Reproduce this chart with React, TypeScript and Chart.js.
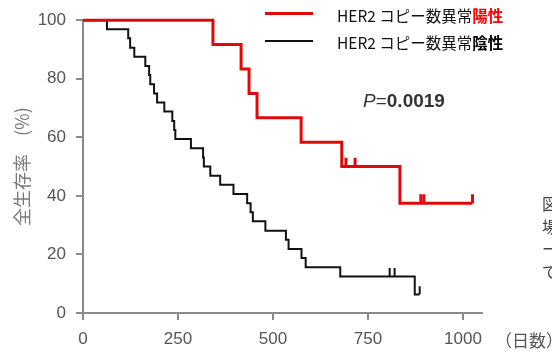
import React, { useEffect, useRef } from "react";
import { Chart, registerables } from "chart.js";
Chart.register(...registerables);

const xTicks = [0, 250, 500, 750, 1000];
const yTicks = [0, 20, 40, 60, 80, 100];

// HER2 copy-number abnormality positive (red)
const posTimes = [0, 342, 416, 437, 458, 574, 681, 834, 1025];
const posSurv = [100, 91.7, 83.3, 75.0, 66.7, 58.3, 50.0, 37.5, 37.5];
const posCensorTimes = [692, 716, 889, 897, 1025];
const posCensorSurv = [50, 50, 37.5, 37.5, 37.5];

// HER2 copy-number abnormality negative (black)
const negTimes = [0, 63, 119, 124, 135, 164, 174, 177, 187, 195, 214, 235, 240, 243, 284, 316, 318, 335, 361, 396, 432, 441, 447, 480, 534, 541, 575, 586, 677, 873, 886];
const negSurv = [100, 96.9, 93.8, 90.6, 87.5, 84.4, 81.3, 78.1, 75.0, 71.9, 68.8, 65.6, 62.5, 59.4, 56.3, 53.1, 50.0, 46.9, 43.8, 40.6, 37.5, 34.4, 31.3, 28.1, 25.0, 21.9, 18.8, 15.6, 12.5, 6.3, 6.3];
const negCensorTimes = [807, 820, 886];
const negCensorSurv = [12.5, 12.5, 6.3];

const legendPrefix = "HER2 コピー数異常";
const legendPos = "陽性";
const legendNeg = "陰性";
const pLabel = "P";
const pValue = "0.0019";
const yTitle = "全生存率　(%)";
const xUnit = "（日数）";
const sideChars = ["図", "場", "ー", "で"];

const RED = "#dd0a0a";
const TICK_OFFSET = 1.5;

export default function App() {
  const ref = useRef<HTMLCanvasElement | null>(null);

  useEffect(() => {
    if (!ref.current) return;
    const chart = new Chart(ref.current, {
      type: "line",
      data: {
        datasets: [
          {
            label: "pos",
            data: posTimes.map((t, i) => ({ x: t, y: posSurv[i] })),
            borderColor: RED,
            borderWidth: 3,
            stepped: "before",
            pointRadius: 0,
            fill: false,
            clip: 6,
          },
          {
            label: "posCensor",
            type: "scatter",
            data: posCensorTimes.map((t, i) => ({ x: t, y: posCensorSurv[i] + TICK_OFFSET })),
            pointStyle: "line",
            rotation: 90,
            pointRadius: 4.5,
            borderColor: RED,
            pointBorderColor: RED,
            pointBorderWidth: 3,
            showLine: false,
            clip: 6,
          },
          {
            label: "neg",
            data: negTimes.map((t, i) => ({ x: t, y: negSurv[i] })),
            borderColor: "#111",
            borderWidth: 2,
            stepped: "before",
            pointRadius: 0,
            fill: false,
            clip: 6,
          },
          {
            label: "negCensor",
            type: "scatter",
            data: negCensorTimes.map((t, i) => ({ x: t, y: negCensorSurv[i] + TICK_OFFSET })),
            pointStyle: "line",
            rotation: 90,
            pointRadius: 4,
            borderColor: "#111",
            pointBorderColor: "#111",
            pointBorderWidth: 2,
            showLine: false,
            clip: 6,
          },
        ] as any,
      },
      options: {
        animation: false,
        responsive: false,
        devicePixelRatio: 1,
        layout: { padding: { top: 14, right: 70, left: 0, bottom: 0 } },
        plugins: { legend: { display: false }, tooltip: { enabled: false } },
        scales: {
          x: {
            type: "linear",
            min: 0,
            max: 1050,
            afterBuildTicks: (s: any) => {
              s.ticks = xTicks.map((v) => ({ value: v }));
            },
            afterFit: (s: any) => {
              s.height = 41;
            },
            grid: { display: true, drawOnChartArea: false, drawTicks: true, tickLength: 7, color: "#8a8a8a", lineWidth: 2 },
            border: { display: true, color: "#8a8a8a", width: 2 },
            ticks: {
              padding: 9,
              color: "#555",
              font: { family: "'Liberation Sans', Arial, sans-serif", size: 17 },
              maxRotation: 0,
              autoSkip: false,
              callback: (v: any) => String(v),
            },
          },
          y: {
            type: "linear",
            min: 0,
            max: 100,
            afterBuildTicks: (s: any) => {
              s.ticks = yTicks.map((v) => ({ value: v }));
            },
            afterFit: (s: any) => {
              s.width = 83;
            },
            grid: { display: true, drawOnChartArea: false, drawTicks: true, tickLength: 7, color: "#8a8a8a", lineWidth: 2 },
            border: { display: true, color: "#8a8a8a", width: 2 },
            ticks: {
              padding: 10,
              color: "#555",
              font: { family: "'Liberation Sans', Arial, sans-serif", size: 17 },
              callback: (v: any) => String(v),
            },
            title: {
              display: true,
              text: yTitle,
              color: "#7a7a7a",
              font: { family: "'Noto Sans CJK JP', sans-serif", size: 18 },
              padding: { top: 11, bottom: 0 },
            },
          },
        },
      },
    });
    return () => chart.destroy();
  }, []);

  const cjk = "'Liberation Sans Narrow', 'Noto Sans CJK JP', sans-serif";

  return (
    <div style={{ position: "absolute", left: 0, top: 0, width: 552, height: 354, overflow: "hidden", background: "#fff" }}>
      <canvas ref={ref} width={552} height={354} style={{ position: "absolute", left: 0, top: 0 }} />
      <div style={{ position: "absolute", left: 265, top: 11.5, width: 48, height: 3, background: RED }} />
      <div style={{ position: "absolute", left: 265, top: 40, width: 48, height: 1.6, background: "#111" }} />
      <div style={{ position: "absolute", left: 337, top: 5, fontFamily: cjk, fontSize: 15.5, lineHeight: "20px", color: "#111", whiteSpace: "nowrap" }}>
        {legendPrefix}
        <span style={{ color: "#ff0000", fontWeight: "bold", fontFamily: "'Noto Sans CJK JP', sans-serif" }}>{legendPos}</span>
      </div>
      <div style={{ position: "absolute", left: 337, top: 32, fontFamily: cjk, fontSize: 15.5, lineHeight: "20px", color: "#111", whiteSpace: "nowrap" }}>
        {legendPrefix}
        <span style={{ color: "#000", fontWeight: "bold", fontFamily: "'Noto Sans CJK JP', sans-serif" }}>{legendNeg}</span>
      </div>
      <div style={{ position: "absolute", left: 363, top: 89, fontFamily: "'Liberation Sans', Arial, sans-serif", fontSize: 19, lineHeight: "24px", color: "#333", whiteSpace: "nowrap" }}>
        <span style={{ fontStyle: "italic" }}>{pLabel}</span>
        <span>=</span>
        <span style={{ fontWeight: "bold" }}>{pValue}</span>
      </div>
      <div style={{ position: "absolute", left: 495, top: 329, fontFamily: "'Noto Sans CJK JP', sans-serif", fontSize: 17, lineHeight: "22px", color: "#555", whiteSpace: "nowrap" }}>
        {xUnit}
      </div>
      <div style={{ position: "absolute", left: 542, top: 192, fontFamily: "'Noto Sans CJK JP', sans-serif", fontSize: 16, lineHeight: "22.5px", color: "#444" }}>
        {sideChars.map((c, i) => (
          <div key={i}>{c}</div>
        ))}
      </div>
    </div>
  );
}
